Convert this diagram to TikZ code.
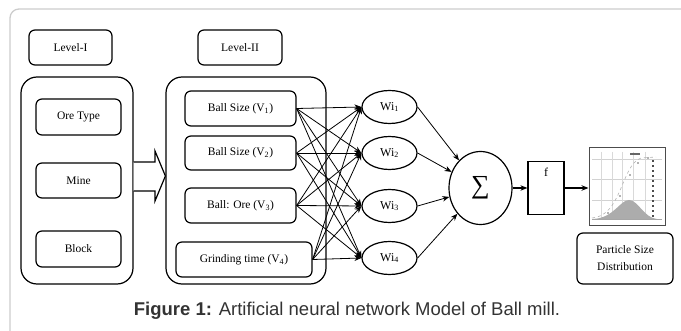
\documentclass[tikz,border=0pt]{standalone}
\usepackage{fontspec}
\setmainfont{Liberation Serif}
\newfontfamily\capfont{Liberation Sans}
\usetikzlibrary{shapes.geometric, arrows.meta}

\begin{document}
\begin{tikzpicture}[x=1pt, y=-1pt, >={Stealth[length=7pt, width=5.5pt]},
    box/.style={draw, line width=1.2pt, rounded corners=6pt, inner sep=0pt, font=\fontsize{11.5}{13}\selectfont},
    bigbox/.style={draw, line width=1.2pt, rounded corners=16pt, inner sep=0pt},
    wnode/.style={draw, ellipse, line width=1.2pt, minimum width=55pt, minimum height=33pt, inner sep=0pt, font=\fontsize{12}{13}\selectfont},
    link/.style={->, line width=0.8pt}]
    \useasboundingbox (0,0) rectangle (681,331);

    % page frame
    \draw[gray!40, line width=1.3pt, rounded corners=9pt] (681,9) -- (10,9) -- (10,331);

    \node[box, minimum width=83pt, minimum height=35pt] (lev1) at (70.5,47.5) {Level-I};
    \node[box, minimum width=84pt, minimum height=35pt] (lev2) at (240,47.5) {Level-II};

    \node[bigbox, minimum width=112pt, minimum height=207pt] (grp1) at (77,180.5) {};
    \node[bigbox, minimum width=160pt, minimum height=207pt] (grp2) at (246,180.5) {};

    \node[box, minimum width=85pt, minimum height=36pt] (ore) at (78.5,117) {Ore Type};
    \node[box, minimum width=85pt, minimum height=35pt] (mine) at (78.5,180.5) {Mine};
    \node[box, minimum width=85pt, minimum height=36pt] (block) at (78.5,249) {Block};

    \node[box, minimum width=111pt, minimum height=35pt] (v1) at (240.5,108.5) {Ball Size (V\textsubscript{1})};
    \node[box, minimum width=111pt, minimum height=34pt] (v2) at (240.5,153) {Ball Size (V\textsubscript{2})};
    \node[box, minimum width=111pt, minimum height=35pt] (v3) at (240.5,205.5) {Ball: Ore (V\textsubscript{3})};
    \node[box, minimum width=136pt, minimum height=35pt] (v4) at (244,259.5) {Grinding time (V\textsubscript{4})};

    % block arrow between the two levels
    \draw[line width=1.2pt, fill=white] (grp1.east |- 0,162) -- (155,162) -- (155,151)
        -- (grp2.west |- 0,176) -- (155,201) -- (155,191) -- (grp1.east |- 0,191);

    \node[wnode] (w1) at (389.5,107) {Wi\textsubscript{1}};
    \node[wnode] (w2) at (389.5,153) {Wi\textsubscript{2}};
    \node[wnode] (w3) at (389.5,206) {Wi\textsubscript{3}};
    \node[wnode] (w4) at (389.5,258) {Wi\textsubscript{4}};

    \foreach \i in {1,...,4}
        \foreach \j in {1,...,4}
            \draw[link] (v\i.east) -- (w\j.west);

    \node[draw, ellipse, line width=1.2pt, minimum width=63pt, minimum height=73pt, inner sep=0pt,
        font=\fontsize{26}{26}\selectfont] (sig) at (480.5,188) {∑};
    \foreach \j in {1,...,4}
        \draw[link] (w\j.east) -- (sig);

    \node[draw, line width=1.2pt, minimum width=36pt, minimum height=53pt, inner sep=0pt,
        label={[anchor=north, yshift=-4pt, font=\fontsize{12}{13}\selectfont]north:f}] (fbox) at (546,188) {};
    \draw[link, line width=1.2pt] (sig) -- (fbox);

    % particle size curve picture
    \node[draw=black!70, line width=1pt, minimum width=76pt, minimum height=78pt, inner sep=0pt] (psd) at (627,187) {};
    \draw[link, line width=1.2pt] (fbox.east) -- (fbox.east -| psd.west);
    \foreach \y in {159,179,200}
        \draw[gray!35, line width=0.5pt] (592,\y) -- (662,\y);
    \foreach \x in {601,612,622,633,645}
        \draw[gray!30, line width=0.4pt] (\x,152) -- (\x,219);
    \fill[gray!65] (593,219) .. controls (614,218) and (620,200) .. (629,200)
        .. controls (638,200) and (644,218) .. (657,219) -- cycle;
    \draw[gray!70, line width=0.5pt] (592,219) -- (662,219);
    \draw[gray!60, line width=0.6pt, dashed] (592,218) .. controls (622,216) and (621,165) .. (641,158) -- (656,157);
    \foreach \x/\y in {608/213,620/196,630/175,638/163,648/158}
        \fill[black!60] (\x,\y) circle (0.9pt);
    \foreach \y in {160,165,...,215}
        \fill[black!70] (652,\y) rectangle (654,\y+2);
    \fill[black!60] (630,153) rectangle (640,155);

    \node[box, minimum width=96pt, minimum height=51pt, align=center,
        font=\fontsize{11.5}{17}\selectfont] (dist) at (625,258.5) {Particle Size\\Distribution};

    \node[font=\capfont\fontsize{18.5}{20}\selectfont, text=black!80] (cap) at (347,311)
        {\textbf{Figure 1:} Artificial neural network Model of Ball mill.};
\end{tikzpicture}
\end{document}
